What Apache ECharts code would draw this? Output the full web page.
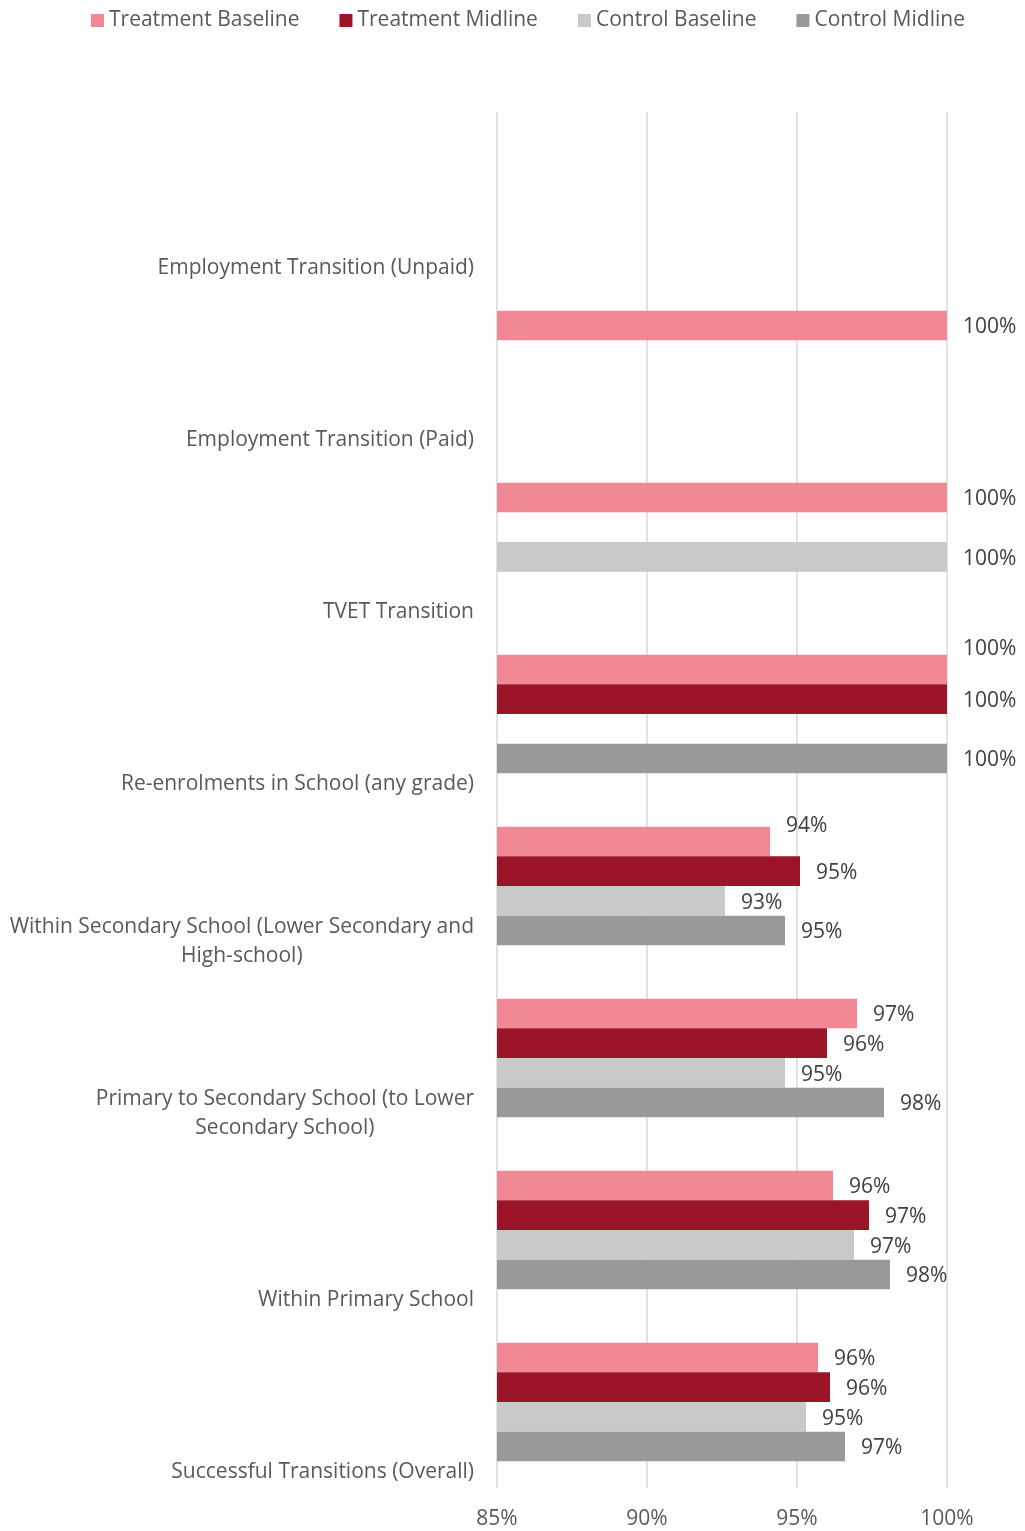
<!DOCTYPE html>
<html>
<head>
<meta charset="utf-8">
<script src="https://cdn.jsdelivr.net/npm/echarts@6/dist/echarts.min.js"></script>
<style>
  html, body { margin: 0; padding: 0; background: #ffffff; }
  #chart { width: 1025px; height: 1531px; }
</style>
</head>
<body>
<div id="chart"></div>
<script>
// Transition rates by stage (percent), listed top to bottom
const categories = [
  'Employment Transition (Unpaid)',
  'Employment Transition (Paid)',
  'TVET Transition',
  'Re-enrolments in School (any grade)',
  'Within Secondary School (Lower Secondary and\nHigh-school)',
  'Primary to Secondary School (to Lower\nSecondary School)',
  'Within Primary School',
  'Successful Transitions (Overall)'
];
const treatmentBaseline = [null, 100, 100, 100, 94.1, 97.0, 96.2, 95.7];
const treatmentMidline  = [null, null, null, 100, 95.1, 96.0, 97.4, 96.1];
const controlBaseline   = [null, null, 100, null, 92.6, 94.6, 96.9, 95.3];
const controlMidline    = [null, null, null, 100, 94.6, 97.9, 98.1, 96.6];
const xMin = 85, xMax = 100, xStep = 5;

const FONT = '"Open Sans", "Noto Sans", sans-serif';
const FONT_SIZE = 21;
const AXIS_TEXT = '#595959';
const VALUE_TEXT = '#404040';

const seriesDefs = [
  { name: 'Treatment Baseline', data: treatmentBaseline, color: '#f08995' },
  { name: 'Treatment Midline',  data: treatmentMidline,  color: '#9c1428' },
  { name: 'Control Baseline',   data: controlBaseline,   color: '#c9c9c9' },
  { name: 'Control Midline',    data: controlMidline,    color: '#9a9898' }
];

// A couple of value labels are lifted so they don't crowd their neighbours
const labelLift = { 'Treatment Baseline': { 3: -22, 4: -17 } };
const LABEL_DROP = 2;

const chart = echarts.init(document.getElementById('chart'), null, { renderer: 'canvas' });

chart.setOption({
  backgroundColor: '#ffffff',
  animation: false,
  textStyle: { fontFamily: FONT },
  legend: {
    top: 5,
    left: 86,
    icon: 'rect',
    itemWidth: 13,
    itemHeight: 13,
    itemGap: 40,
    textStyle: { fontSize: FONT_SIZE, color: AXIS_TEXT, fontFamily: FONT },
    data: seriesDefs.map(s => s.name)
  },
  grid: { left: 497, right: 78, top: 112, bottom: 43, containLabel: false, outerBoundsMode: 'none' },
  xAxis: {
    type: 'value',
    min: xMin,
    max: xMax,
    interval: xStep,
    axisLine: { show: false },
    axisTick: { show: false },
    splitLine: { show: true, lineStyle: { color: '#d9d9d9', width: 1.5 } },
    axisLabel: {
      margin: 21,
      fontSize: FONT_SIZE,
      color: AXIS_TEXT,
      fontFamily: FONT,
      formatter: '{value}%'
    }
  },
  yAxis: {
    type: 'category',
    inverse: true,
    data: categories,
    axisLine: { show: false },
    axisTick: { show: false },
    axisLabel: {
      interval: 0,
      margin: 23,
      verticalAlign: 'top',
      padding: [27, 0, 0, 0],
      lineHeight: 29,
      formatter: function (v) {
        const lines = v.split('\n');
        if (lines.length === 1) lines.unshift(' ');
        return lines.map(l => '{c|' + l + '}').join('\n');
      },
      rich: {
        c: { align: 'center', fontSize: FONT_SIZE, lineHeight: 29, color: AXIS_TEXT, fontFamily: FONT }
      }
    }
  },
  series: seriesDefs.map(s => ({
    type: 'bar',
    name: s.name,
    barGap: '0%',
    barCategoryGap: '31%',
    itemStyle: { color: s.color },
    label: {
      show: true,
      position: 'right',
      distance: 16,
      offset: [0, LABEL_DROP],
      fontSize: FONT_SIZE,
      color: VALUE_TEXT,
      fontFamily: FONT,
      formatter: p => Math.round(p.value) + '%'
    },
    data: s.data.map((v, i) => {
      const dy = (labelLift[s.name] || {})[i];
      return dy ? { value: v, label: { offset: [0, dy + LABEL_DROP] } } : v;
    })
  }))
});
</script>
</body>
</html>
